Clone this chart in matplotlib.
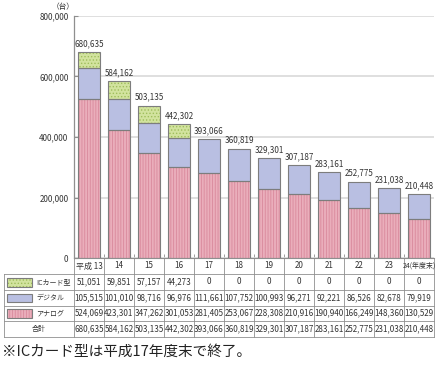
import matplotlib
matplotlib.use("Agg")
import matplotlib.pyplot as plt
from matplotlib.patches import Rectangle

# data (台)
years = ["平成 13", "14", "15", "16", "17", "18", "19", "20", "21", "22", "23",
         "24(年度末)"]
ic_card = [51051, 59851, 57157, 44273, 0, 0, 0, 0, 0, 0, 0, 0]
digital = [105515, 101010, 98716, 96976, 111661, 107752, 100993, 96271,
           92221, 86526, 82678, 79919]
analog = [524069, 423301, 347262, 301053, 281405, 253067, 228308, 210916,
          190940, 166249, 148360, 130529]
total = [680635, 584162, 503135, 442302, 393066, 360819, 329301, 307187,
         283161, 252775, 231038, 210448]
series_names = ["ICカード型", "デジタル", "アナログ"]
yticks = [0, 200000, 400000, 600000, 800000]
note = "※ICカード型は平成17年度末で終了。"

# style
C_ANALOG, C_ANALOG_H = "#eaaebb", "#d9899c"
C_DIGI = "#b9bfe2"
C_IC, C_IC_H = "#d2e39e", "#9fbd5c"
C_EDGE = "#7d7d7d"
C_LINE = "#8f8f8f"
C_TEXT = "#333333"
FONT = ["Liberation Sans Narrow", "Noto Sans CJK JP", "DejaVu Sans"]
plt.rcParams["font.family"] = FONT
plt.rcParams["hatch.linewidth"] = 0.6

W, H = 438, 365
fig = plt.figure(figsize=(W / 100, H / 100), dpi=100, facecolor="white")

# pixel geometry
X0, COLW, N = 74, 30, len(years)
Y_TOP, Y_ZERO = 16, 258
ax = fig.add_axes([X0 / W, (H - Y_ZERO) / H, COLW * N / W, (Y_ZERO - Y_TOP) / H])
ax.set_xlim(-0.5, N - 0.5)
ax.set_ylim(0, 800000)
ax.set_facecolor("none")


def hatched_bar(axis, x, h, b, face, hcolor, hatch, w):
    if hatch:
        axis.bar(x, h, w, bottom=b, color=face, edgecolor=hcolor,
                 linewidth=0, hatch=hatch, zorder=2)
    else:
        axis.bar(x, h, w, bottom=b, color=face, linewidth=0, zorder=2)
    axis.bar(x, h, w, bottom=b, fill=False, edgecolor=C_EDGE,
             linewidth=0.8, zorder=3)


xs = list(range(N))
bw = 0.74
hatched_bar(ax, xs, analog, 0, C_ANALOG, C_ANALOG_H, "|" * 6, bw)
hatched_bar(ax, xs, digital, analog, C_DIGI, None, None, bw)
for i in xs:
    if ic_card[i] > 0:
        hatched_bar(ax, i, ic_card[i], analog[i] + digital[i], C_IC, C_IC_H,
                    "." * 5, bw)
for i, t in enumerate(total):
    ax.annotate(f"{t:,}", xy=(i, t), xytext=(0, 3), textcoords="offset points",
                ha="center", va="bottom", fontsize=5.8, color=C_TEXT)

ax.set_yticks(yticks)
ax.set_yticklabels([f"{v:,}" for v in yticks])
ax.grid(axis="y", color="#d9d9d9", linewidth=1.2)
ax.set_axisbelow(True)
ax.set_xticks([])
ax.set_xticks([i + 0.5 for i in range(N - 1)], minor=True)
ax.tick_params(axis="x", which="minor", direction="in", length=3,
               color=C_LINE, width=0.6)
ax.tick_params(axis="y", direction="in", length=3, color=C_LINE, width=0.8,
               labelsize=5.8, labelcolor=C_TEXT, pad=4)
for s in ["top", "right"]:
    ax.spines[s].set_visible(False)
ax.spines["left"].set_color(C_LINE)
ax.spines["bottom"].set_color(C_LINE)
ax.spines["left"].set_linewidth(0.9)
ax.spines["bottom"].set_linewidth(0.8)

# table drawn in pixel coordinates
tab = fig.add_axes([0, 0, 1, 1])
tab.set_xlim(0, W)
tab.set_ylim(H, 0)
tab.axis("off")
tab.set_facecolor("none")

tab.text(63, 7, "（台）", ha="center", va="center", fontsize=5.5, color=C_TEXT)

XL, XR = 4, X0 + COLW * N
rows = [258, 274, 290, 305.5, 321, 337]
lw = 0.6
for k, y in enumerate(rows):
    x_start = X0 if k == 0 else XL
    tab.plot([x_start, XR], [y, y], color=C_LINE, lw=lw)
tab.plot([XL, XL], [rows[1], rows[-1]], color=C_LINE, lw=lw)
for j in range(N + 1):
    tab.plot([X0 + COLW * j] * 2, [rows[0], rows[-1]], color=C_LINE, lw=lw)

cx = [X0 + COLW * (j + 0.5) for j in range(N)]
for j, lab in enumerate(years):
    fs = 5.0 if j == N - 1 else 5.8
    tab.text(cx[j], (rows[0] + rows[1]) / 2, lab, ha="center", va="center",
             fontsize=fs, color=C_TEXT)

table_rows = [ic_card, digital, analog, total]
for r, vals in enumerate(table_rows):
    yc = (rows[r + 1] + rows[r + 2]) / 2
    for j, v in enumerate(vals):
        tab.text(cx[j], yc, f"{v:,}", ha="center", va="center",
                 fontsize=5.8, color=C_TEXT)

swatch = [(C_IC, C_IC_H, "." * 5), (C_DIGI, None, None),
          (C_ANALOG, C_ANALOG_H, "|" * 6)]
for r, (name, (fc, hc, ht)) in enumerate(zip(series_names, swatch)):
    y0, y1 = rows[r + 1], rows[r + 2]
    if ht:
        tab.add_patch(Rectangle((7, y0 + 3.5), 25, y1 - y0 - 7, facecolor=fc,
                                edgecolor=hc, linewidth=0, hatch=ht))
    else:
        tab.add_patch(Rectangle((7, y0 + 3.5), 25, y1 - y0 - 7, facecolor=fc,
                                linewidth=0))
    tab.add_patch(Rectangle((7, y0 + 3.5), 25, y1 - y0 - 7, fill=False,
                            edgecolor=C_EDGE, linewidth=0.8))
    tab.text(36, (y0 + y1) / 2, name, ha="left", va="center", fontsize=5,
             color=C_TEXT)
tab.text(39, (rows[4] + rows[5]) / 2, "合計", ha="center", va="center",
         fontsize=5, color=C_TEXT)

tab.text(2, 352, note, ha="left", va="center", fontsize=10.5, color="#222222",
         family=["Noto Sans CJK JP", "DejaVu Sans"])

fig.savefig("out.png", dpi=100, facecolor="white")
